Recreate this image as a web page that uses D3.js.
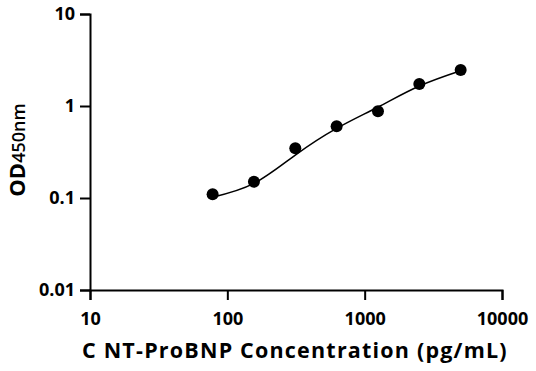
<!DOCTYPE html>
<html>
<head>
<meta charset="utf-8">
<script src="https://cdn.jsdelivr.net/npm/d3@7"></script>
<style>
  body { margin: 0; background: #fff; }
  text { font-family: "Open Sans", "DejaVu Sans", sans-serif; font-weight: bold; fill: #000; }
</style>
</head>
<body>
<script>
// standard concentrations (pg/mL) and measured OD450
var conc = [78.125, 156.25, 312.5, 625, 1250, 2500, 5000];
var od = [0.110, 0.150, 0.347, 0.601, 0.875, 1.73, 2.46];

// fitted curve
var fitConc = [78.125, 156.25, 312.5, 625, 1250, 2500, 5000];
var fitOd = [0.102, 0.144, 0.293, 0.572, 0.975, 1.65, 2.42];

var xTicks = [10, 100, 1000, 10000];
var yTicks = [0.01, 0.1, 1, 10];

var width = 536,
    height = 371;
var margin = {left: 90, right: 34, top: 14, bottom: 81};

var svg = d3.select("body").append("svg")
    .attr("width", width)
    .attr("height", height);

var x = d3.scaleLog()
    .domain([10, 10000])
    .range([margin.left, width - margin.right]);
var y = d3.scaleLog()
    .domain([0.01, 10])
    .range([height - margin.bottom, margin.top]);

var xAxis = svg.append("g")
    .attr("transform", "translate(0," + (height - margin.bottom) + ")")
    .call(d3.axisBottom(x).tickValues(xTicks).tickFormat(d3.format("d")).tickSize(10).tickPadding(12));
var yAxis = svg.append("g")
    .attr("transform", "translate(" + margin.left + ",0)")
    .call(d3.axisLeft(y).tickValues(yTicks).tickFormat(function(d) { return String(d); }).tickSize(10).tickPadding(5));

[xAxis, yAxis].forEach(function(g) {
    g.select(".domain").attr("stroke", "#000").attr("stroke-width", 2);
    g.selectAll(".tick line").attr("stroke", "#000").attr("stroke-width", 2);
    g.selectAll(".tick text").style("font-size", "18px");
});

var line = d3.line()
    .x(function(d) { return x(d[0]); })
    .y(function(d) { return y(d[1]); })
    .curve(d3.curveNatural);

svg.append("path")
    .datum(d3.zip(fitConc, fitOd))
    .attr("fill", "none")
    .attr("stroke", "#000")
    .attr("stroke-width", 1.5)
    .attr("d", line);

svg.selectAll(".pin").data(d3.zip(conc, od))
    .enter().append("circle")
    .attr("class", "pin")
    .attr("r", 6)
    .attr("fill", "#000")
    .attr("cx", function(d) { return x(d[0]); })
    .attr("cy", function(d) { return y(d[1]); });

svg.append("text")
    .attr("x", 82)
    .attr("y", 358)
    .attr("text-anchor", "start")
    .style("font-size", "21.5px")
    .style("letter-spacing", "1.2px")
    .text("C NT-ProBNP Concentration (pg/mL)");

var yt = svg.append("text")
    .attr("transform", "translate(25,150) rotate(-90)")
    .attr("text-anchor", "middle");
yt.append("tspan").style("font-size", "22px").text("OD");
yt.append("tspan").style("font-size", "18px").attr("font-weight", "600").text("450nm");
</script>
</body>
</html>
